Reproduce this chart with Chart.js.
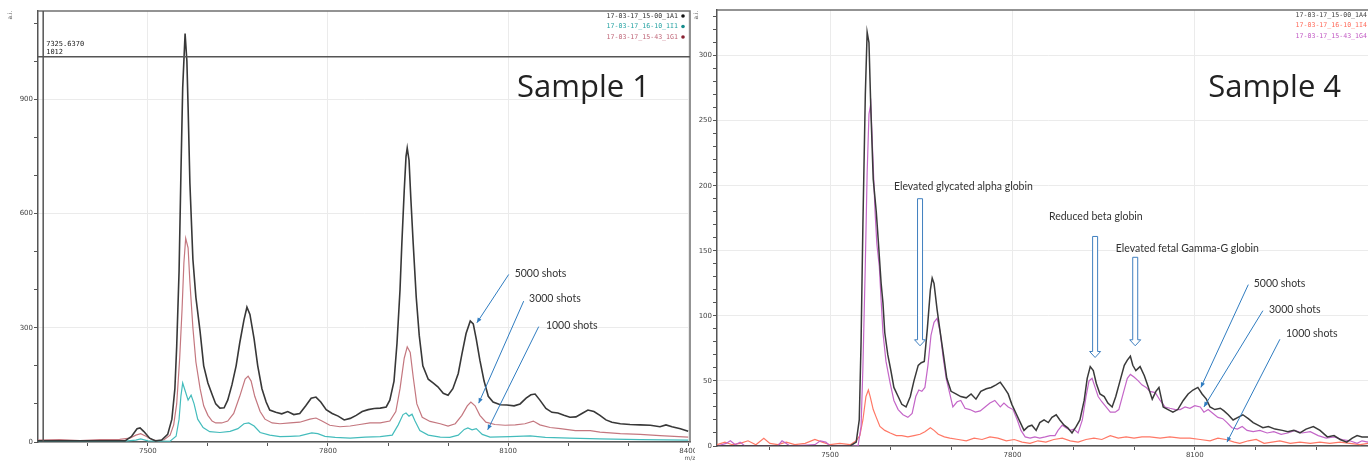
<!DOCTYPE html>
<html>
<head>
<meta charset="utf-8">
<script src="https://cdn.jsdelivr.net/npm/chart.js@4.4.1/dist/chart.umd.min.js"></script>
<style>
html, body { margin: 0; padding: 0; background: #fff; overflow: hidden; width: 1368px; height: 461px; }
#wrapL { position: absolute; left: 0; top: 0; width: 695px; height: 461px; overflow: hidden; }
#wrapR { position: absolute; left: 690px; top: 0; width: 710px; height: 461px; }
canvas { display: block; }
</style>
</head>
<body>
<div id="wrapL"><canvas id="chartL" width="699" height="461"></canvas></div>
<div id="wrapR"><canvas id="chartR" width="710" height="461"></canvas></div>
<script>
// ---- axes ----
const xTicks = [7400, 7500, 7600, 7700, 7800, 7900, 8000, 8100, 8200, 8300, 8400];
const xLabels = [7500, 7800, 8100, 8400];
const yTicksS1 = [0, 100, 200, 300, 400, 500, 600, 700, 800, 900, 1000, 1100];
const yLabelsS1 = [0, 300, 600, 900];
const yTicksS4 = [0, 10, 20, 30, 40, 50, 60, 70, 80, 90, 100, 110, 120, 130, 140, 150, 160,
                  170, 180, 190, 200, 210, 220, 230, 240, 250, 260, 270, 280, 290, 300, 310, 320, 330];
const yLabelsS4 = [0, 50, 100, 150, 200, 250, 300];

// ---- legend names ----
const namesS1 = ['17-03-17_15-00_1A1', '17-03-17_16-10_1I1', '17-03-17_15-43_1G1'];
const namesS4 = ['17-03-17_15-00_1A4', '17-03-17_16-10_1I4', '17-03-17_15-43_1G4'];

// ---- Sample 1, 5000 shots (1A1) ----
const mzA1 = [7317, 7462, 7473, 7482, 7487, 7493, 7503, 7513, 7523, 7533,
              7540, 7545, 7548, 7552, 7555, 7558, 7562, 7565, 7567, 7570,
              7575, 7580, 7587, 7593, 7600, 7607, 7613, 7620, 7627, 7633,
              7640, 7647, 7653, 7660, 7665, 7670, 7677, 7683, 7690, 7697,
              7703, 7713, 7723, 7733, 7743, 7753, 7763, 7772, 7780, 7788,
              7797, 7807, 7817, 7827, 7837, 7847, 7857, 7867, 7877, 7887,
              7897, 7903, 7910, 7915, 7920, 7923, 7927, 7930, 7932, 7935,
              7938, 7942, 7947, 7952, 7958, 7967, 7975, 7983, 7992, 8000,
              8008, 8017, 8023, 8030, 8037, 8042, 8047, 8053, 8060, 8067,
              8075, 8087, 8098, 8110, 8120, 8130, 8138, 8145, 8153, 8163,
              8173, 8183, 8193, 8203, 8213, 8223, 8233, 8243, 8253, 8263,
              8273, 8287, 8303, 8320, 8337, 8353, 8363, 8373, 8387, 8400];
const intA1 = [3, 3, 15, 35, 37, 28, 10, 3, 5, 20,
               60, 140, 250, 450, 700, 930, 1073, 1000, 880, 680,
               480, 380, 290, 200, 155, 125, 100, 89, 90, 110,
               150, 200, 260, 320, 354, 335, 270, 200, 140, 105,
               84, 78, 74, 80, 72, 75, 95, 115, 118, 105,
               85, 75, 68, 58, 62, 70, 80, 85, 88, 89,
               92, 110, 160, 260, 400, 520, 660, 750, 772, 740,
               640, 520, 380, 280, 200, 165, 155, 145, 128, 123,
               140, 180, 230, 285, 318, 310, 270, 215, 160, 120,
               105, 98, 97, 95, 100, 115, 124, 126, 110, 88,
               78, 76, 70, 65, 66, 75, 84, 80, 70, 58,
               52, 48, 46, 45, 44, 40, 45, 40, 35, 28];

// ---- Sample 1, 3000 shots (1G1) ----
const mzG1 = [7317, 7353, 7387, 7420, 7453, 7470, 7480, 7488, 7497, 7507,
              7517, 7527, 7537, 7543, 7548, 7553, 7557, 7560, 7563, 7567,
              7570, 7575, 7580, 7587, 7593, 7600, 7607, 7613, 7623, 7633,
              7643, 7653, 7662, 7667, 7672, 7678, 7687, 7695, 7707, 7720,
              7737, 7753, 7770, 7780, 7790, 7803, 7820, 7837, 7853, 7870,
              7887, 7903, 7913, 7920, 7927, 7932, 7937, 7942, 7948, 7957,
              7970, 7987, 8000, 8012, 8023, 8032, 8038, 8045, 8053, 8063,
              8078, 8095, 8112, 8128, 8142, 8153, 8170, 8187, 8212, 8237,
              8253, 8287, 8320, 8353, 8400];
const intG1 = [5, 6, 4, 6, 7, 10, 18, 22, 15, 6,
               3, 6, 18, 45, 100, 220, 350, 470, 535, 510,
               420, 300, 210, 140, 95, 70, 55, 50, 50, 55,
               75, 120, 165, 173, 160, 120, 80, 60, 50, 48,
               50, 52, 60, 63, 55, 44, 40, 42, 46, 50,
               50, 55, 80, 140, 220, 250, 235, 170, 100, 65,
               54, 48, 42, 48, 70, 95, 105, 95, 70, 52,
               46, 44, 45, 48, 55, 45, 38, 35, 30, 30,
               26, 22, 20, 17, 13];

// ---- Sample 1, 1000 shots (1I1) ----
const mzI1 = [7317, 7453, 7480, 7488, 7500, 7537, 7547, 7552, 7555, 7558,
              7563, 7567, 7572, 7577, 7583, 7592, 7603, 7620, 7637, 7650,
              7660, 7668, 7677, 7687, 7703, 7720, 7737, 7753, 7773, 7783,
              7795, 7812, 7837, 7862, 7887, 7907, 7917, 7925, 7930, 7935,
              7940, 7945, 7953, 7967, 7987, 8003, 8017, 8027, 8033, 8040,
              8047, 8057, 8070, 8103, 8137, 8162, 8203, 8253, 8320, 8400];
const intI1 = [1, 1, 5, 8, 3, 2, 15, 60, 120, 155,
               130, 110, 123, 100, 60, 38, 27, 25, 28, 35,
               48, 50, 42, 25, 18, 14, 15, 16, 24, 22,
               15, 12, 10, 13, 14, 18, 45, 72, 76, 68,
               73, 55, 30, 18, 13, 12, 18, 33, 37, 32,
               35, 20, 13, 14, 16, 12, 10, 8, 6, 5];

// ---- Sample 4, 5000 shots (1A4) ----
const mzA4 = [7314, 7533, 7543, 7548, 7551, 7554, 7558, 7561, 7564, 7567,
              7571, 7576, 7579, 7584, 7587, 7590, 7595, 7600, 7605, 7612,
              7618, 7625, 7632, 7638, 7645, 7650, 7655, 7660, 7665, 7668,
              7671, 7676, 7681, 7686, 7692, 7699, 7707, 7715, 7724, 7732,
              7740, 7748, 7757, 7765, 7773, 7780, 7786, 7793, 7799, 7806,
              7813, 7819, 7826, 7832, 7839, 7845, 7852, 7859, 7865, 7872,
              7878, 7885, 7891, 7898, 7905, 7911, 7918, 7923, 7928, 7933,
              7938, 7944, 7951, 7957, 7964, 7970, 7977, 7984, 7989, 7994,
              7998, 8003, 8010, 8017, 8023, 8030, 8036, 8041, 8048, 8056,
              8064, 8072, 8081, 8089, 8097, 8105, 8112, 8119, 8125, 8133,
              8142, 8148, 8155, 8163, 8171, 8179, 8188, 8196, 8204, 8212,
              8221, 8232, 8244, 8253, 8263, 8273, 8283, 8295, 8306, 8318,
              8329, 8339, 8350, 8359, 8367, 8375, 8385, 8400];
const intA4 = [0, 0, 3, 20, 80, 170, 270, 318, 310, 260,
               205, 180, 160, 125, 110, 87, 70, 58, 45, 38,
               32, 30, 38, 50, 62, 64, 65, 90, 120, 129,
               125, 105, 88, 72, 52, 42, 40, 38, 37, 40,
               36, 42, 44, 45, 47, 49, 45, 40, 32, 25,
               18, 12, 15, 16, 12, 18, 20, 18, 22, 24,
               20, 16, 14, 10, 15, 20, 35, 52, 61, 58,
               48, 40, 38, 33, 30, 38, 50, 62, 66, 69,
               62, 58, 61, 54, 46, 36, 42, 45, 30, 28,
               26, 28, 35, 40, 43, 45, 40, 36, 30, 28,
               29, 27, 24, 20, 22, 24, 21, 18, 16, 14,
               15, 13, 12, 11, 12, 10, 13, 15, 12, 7,
               8, 5, 3, 6, 8, 7, 7, 6];

// ---- Sample 4, 3000 shots (1G4) ----
const mzG4 = [7314, 7329, 7336, 7344, 7352, 7360, 7414, 7421, 7428, 7434,
              7475, 7484, 7493, 7500, 7546, 7551, 7554, 7558, 7561, 7564,
              7567, 7571, 7574, 7577, 7581, 7584, 7587, 7592, 7599, 7605,
              7612, 7620, 7628, 7635, 7641, 7646, 7651, 7656, 7661, 7666,
              7671, 7676, 7681, 7686, 7691, 7697, 7702, 7709, 7715, 7722,
              7730, 7739, 7747, 7755, 7763, 7771, 7780, 7786, 7793, 7801,
              7808, 7814, 7821, 7829, 7837, 7845, 7854, 7862, 7870, 7875,
              7882, 7888, 7895, 7901, 7908, 7915, 7921, 7926, 7931, 7936,
              7941, 7947, 7954, 7961, 7969, 7975, 7982, 7989, 7994, 8000,
              8007, 8013, 8020, 8026, 8035, 8043, 8051, 8059, 8068, 8076,
              8084, 8092, 8100, 8109, 8115, 8122, 8130, 8138, 8146, 8153,
              8161, 8170, 8178, 8186, 8196, 8207, 8219, 8230, 8242, 8253,
              8265, 8276, 8290, 8303, 8316, 8329, 8342, 8355, 8367, 8375,
              8385, 8400];
const intG4 = [0, 2, 4, 1, 3, 0, 0, 4, 2, 0,
               1, 4, 3, 0, 0, 15, 60, 140, 210, 255,
               263, 215, 180, 155, 138, 112, 87, 65, 48, 35,
               28, 24, 22, 25, 38, 43, 42, 45, 62, 85,
               95, 98, 88, 68, 52, 40, 30, 34, 35, 29,
               28, 26, 27, 30, 33, 35, 30, 33, 30, 28,
               20, 12, 7, 6, 7, 6, 7, 8, 8, 12,
               16, 14, 12, 13, 10, 20, 38, 50, 52, 45,
               38, 34, 30, 26, 26, 28, 40, 52, 55, 53,
               50, 47, 45, 42, 41, 35, 30, 29, 28, 28,
               30, 29, 31, 30, 26, 28, 25, 22, 21, 18,
               14, 13, 15, 12, 11, 12, 10, 11, 9, 10,
               12, 10, 11, 8, 6, 7, 5, 4, 2, 4,
               3, 3];

// ---- Sample 4, 1000 shots (1I4) ----
const mzI4 = [7314, 7327, 7339, 7352, 7365, 7378, 7391, 7401, 7414, 7428,
              7442, 7459, 7475, 7487, 7500, 7516, 7533, 7543, 7549, 7554,
              7559, 7563, 7566, 7571, 7576, 7582, 7590, 7599, 7609, 7618,
              7628, 7638, 7648, 7656, 7665, 7671, 7678, 7688, 7697, 7711,
              7724, 7737, 7750, 7763, 7776, 7790, 7803, 7816, 7829, 7842,
              7855, 7868, 7882, 7895, 7908, 7921, 7934, 7947, 7961, 7974,
              7987, 8000, 8013, 8026, 8043, 8059, 8076, 8092, 8109, 8125,
              8138, 8151, 8165, 8174, 8188, 8201, 8214, 8227, 8240, 8257,
              8273, 8290, 8306, 8322, 8339, 8355, 8372, 8385, 8400];
const intI4 = [1, 3, 1, 2, 4, 1, 6, 2, 1, 3,
               1, 2, 5, 3, 1, 2, 1, 4, 8, 20,
               38, 43, 38, 28, 22, 15, 12, 10, 8, 8,
               7, 8, 9, 11, 14, 12, 9, 7, 6, 5,
               4, 6, 5, 7, 6, 4, 5, 3, 2, 4,
               3, 5, 6, 4, 3, 5, 6, 5, 8, 6,
               7, 6, 7, 7, 6, 7, 6, 6, 5, 4,
               6, 5, 3, 2, 4, 5, 2, 3, 4, 2,
               3, 2, 3, 2, 3, 2, 1, 2, 2];

// ---- drawing helpers ----
function arrowLine(ctx, x1, y1, x2, y2) {
    ctx.beginPath();
    ctx.moveTo(x1, y1);
    ctx.lineTo(x2, y2);
    ctx.stroke();
    let a = Math.atan2(y2 - y1, x2 - x1), L = 5, W = 2.2;
    ctx.beginPath();
    ctx.moveTo(x2, y2);
    ctx.lineTo(x2 - L * Math.cos(a) + W * Math.sin(a), y2 - L * Math.sin(a) - W * Math.cos(a));
    ctx.lineTo(x2 - L * Math.cos(a) - W * Math.sin(a), y2 - L * Math.sin(a) + W * Math.cos(a));
    ctx.closePath();
    ctx.fill();
}

function blockArrow(ctx, cx, yTop, yTip) {
    let sw = 2.5, hw = 5.5, hl = 6;
    ctx.beginPath();
    ctx.moveTo(cx - sw, yTop);
    ctx.lineTo(cx + sw, yTop);
    ctx.lineTo(cx + sw, yTip - hl);
    ctx.lineTo(cx + hw, yTip - hl);
    ctx.lineTo(cx, yTip);
    ctx.lineTo(cx - hw, yTip - hl);
    ctx.lineTo(cx - sw, yTip - hl);
    ctx.closePath();
    ctx.fillStyle = '#fff';
    ctx.fill();
    ctx.strokeStyle = '#3f7fbf';
    ctx.lineWidth = 1;
    ctx.stroke();
}

function decor(p)
{
    return {
        id: 'decor',
        afterDraw(chart) {
            const ctx = chart.ctx, a = chart.chartArea;
            const xs = chart.scales.x, ys = chart.scales.y;
            const px = v => xs.getPixelForValue(v), py = v => ys.getPixelForValue(v);
            ctx.save();

            // frame (top + right)
            ctx.strokeStyle = '#707070';
            ctx.lineWidth = 1.5;
            ctx.beginPath();
            ctx.moveTo(a.left, a.top);
            ctx.lineTo(a.right, a.top);
            ctx.lineTo(a.right, a.bottom);
            ctx.stroke();

            // a.i. label
            ctx.save();
            ctx.translate(p.aiX, 15);
            ctx.rotate(-Math.PI / 2);
            ctx.fillStyle = '#555';
            ctx.font = '6px "DejaVu Sans"';
            ctx.textAlign = 'center';
            ctx.textBaseline = 'middle';
            ctx.fillText('a.i.', 0, 0);
            ctx.restore();

            // m/z label
            ctx.fillStyle = '#555';
            ctx.font = '6px "DejaVu Sans"';
            ctx.textAlign = 'center';
            ctx.textBaseline = 'middle';
            ctx.fillText('m/z', a.right, a.bottom + 16);

            // cursor cross
            if (p.cursor) {
                let cx = px(p.cursor.mz), cy = py(p.cursor.value);
                ctx.strokeStyle = '#555';
                ctx.lineWidth = 1.5;
                ctx.beginPath();
                ctx.moveTo(cx, a.top); ctx.lineTo(cx, a.bottom);
                ctx.moveTo(a.left, cy); ctx.lineTo(a.right, cy);
                ctx.stroke();
                ctx.fillStyle = '#222';
                ctx.font = '7px "DejaVu Sans Mono"';
                ctx.textAlign = 'left';
                ctx.textBaseline = 'middle';
                ctx.fillText(p.cursor.text[0], cx + 3, cy - 13);
                ctx.fillText(p.cursor.text[1], cx + 3, cy - 5);
            }

            // legend, top right (in legend order, not draw order)
            ctx.font = '6.6px "DejaVu Sans Mono"';
            ctx.textAlign = 'right';
            ctx.textBaseline = 'middle';
            for (let i = 0; i < p.legend.length; i++) {
                let s = p.series[p.legend[i]], y = a.top + 5 + i * 10.5;
                ctx.fillStyle = s.textColor;
                ctx.fillText(s.name, a.right - 12, y);
                ctx.fillStyle = s.dotColor;
                ctx.beginPath();
                ctx.arc(a.right - 7, y, 1.8, 0, Math.PI * 2);
                ctx.fill();
            }

            // big sample title
            ctx.fillStyle = '#222';
            ctx.font = '31px "Open Sans"';
            ctx.textAlign = 'left';
            ctx.textBaseline = 'alphabetic';
            ctx.fillText(p.title.text, px(p.title.mz), py(p.title.value));

            // block arrows
            for (let b of p.blocks)
                blockArrow(ctx, px(b.mz), py(b.top), py(b.tip));

            // thin arrows
            ctx.strokeStyle = '#2f7cc0';
            ctx.fillStyle = '#2f7cc0';
            ctx.lineWidth = 1;
            for (let r of p.arrows)
                arrowLine(ctx, px(r.from[0]), py(r.from[1]), px(r.to[0]), py(r.to[1]));

            // notes
            ctx.fillStyle = '#333';
            ctx.font = '10.5px Lato';
            ctx.textAlign = 'left';
            ctx.textBaseline = 'middle';
            for (let n of p.notes)
                ctx.fillText(n.text, px(n.mz), py(n.value));

            ctx.restore();
        }
    };
}

function buildChart(id, p)
{
    const tickFont = {family: 'DejaVu Sans', size: 7};
    const datasets = p.series.map(s => ({
        data: s.mz.map((m, i) => ({x: m, y: s.val[i]})),
        borderColor: s.color,
        borderWidth: s.width,
        pointRadius: 0,
        tension: 0,
        fill: false
    }));

    return new Chart(document.getElementById(id), {
        type: 'line',
        data: {datasets: datasets},
        options: {
            responsive: false,
            animation: false,
            events: [],
            layout: {padding: {left: 0, top: p.padTop, right: p.padRight, bottom: 0}},
            plugins: {legend: {display: false}, tooltip: {enabled: false}},
            scales: {
                x: {
                    type: 'linear',
                    min: p.xMin,
                    max: p.xMax,
                    afterBuildTicks: sc => { sc.ticks = xTicks.map(v => ({value: v})); },
                    afterFit: sc => { sc.height = p.xAxisH; },
                    ticks: {
                        autoSkip: false, maxRotation: 0, padding: 1, color: '#444', font: tickFont,
                        callback: v => xLabels.includes(v) ? String(v) : ''
                    },
                    grid: {
                        color: c => (c.tick && xLabels.includes(c.tick.value)) ? '#ebebeb' : 'rgba(0,0,0,0)',
                        tickColor: '#555',
                        tickLength: 4
                    },
                    border: {color: '#555', width: 1.5}
                },
                y: {
                    type: 'linear',
                    min: 0,
                    max: p.yMax,
                    afterBuildTicks: sc => { sc.ticks = p.yTicks.map(v => ({value: v})); },
                    afterFit: sc => { sc.width = p.yAxisW; },
                    ticks: {
                        autoSkip: false, padding: 1, color: '#444', font: tickFont,
                        callback: v => p.yLabels.includes(v) ? String(v) : ''
                    },
                    grid: {
                        color: c => (c.tick && p.yLabels.includes(c.tick.value)) ? '#ebebeb' : 'rgba(0,0,0,0)',
                        tickColor: '#555',
                        tickLength: 4
                    },
                    border: {color: '#555', width: 1.5}
                }
            }
        },
        plugins: [decor(p)]
    });
}

buildChart('chartL', {
    xMin: 7317, xMax: 8403, yMax: 1132,
    yTicks: yTicksS1, yLabels: yLabelsS1,
    padTop: 11, padRight: 9, xAxisH: 19, yAxisW: 38, aiX: 10,
    series: [
        {mz: mzA1, val: intA1, color: '#383838', width: 1.6, name: namesS1[0], textColor: '#333', dotColor: '#111'},
        {mz: mzI1, val: intI1, color: '#44bcbc', width: 1.2, name: namesS1[1], textColor: '#27a3a3', dotColor: '#168c8c'},
        {mz: mzG1, val: intG1, color: '#c4777f', width: 1.2, name: namesS1[2], textColor: '#c0687a', dotColor: '#8a2232'}
    ],
    legend: [0, 1, 2],
    cursor: {mz: 7325.637, value: 1012, text: ['7325.6370', '1012']},
    title: {text: 'Sample 1', mz: 8115, value: 906},
    notes: [
        {text: '5000 shots', mz: 8111, value: 443},
        {text: '3000 shots', mz: 8135, value: 376},
        {text: '1000 shots', mz: 8163, value: 307}
    ],
    arrows: [
        {from: [8101, 440], to: [8048, 313]},
        {from: [8126, 370], to: [8051, 102]},
        {from: [8151, 303], to: [8066, 32]}
    ],
    blocks: []
});

buildChart('chartR', {
    xMin: 7314, xMax: 8403, yMax: 335,
    yTicks: yTicksS4, yLabels: yLabelsS4,
    padTop: 10, padRight: 21, xAxisH: 15, yAxisW: 27, aiX: 6,
    series: [
        {mz: mzA4, val: intA4, color: '#3a3a3a', width: 1.5, name: namesS4[0], textColor: '#444', dotColor: '#111'},
        {mz: mzG4, val: intG4, color: '#c466c8', width: 1.2, name: namesS4[2], textColor: '#c25ac4', dotColor: '#8a2a8a'},
        {mz: mzI4, val: intI4, color: '#ff7866', width: 1.2, name: namesS4[1], textColor: '#ff6a5a', dotColor: '#c0302a'}
    ],
    legend: [0, 2, 1],
    cursor: null,
    title: {text: 'Sample 4', mz: 8122, value: 268},
    notes: [
        {text: 'Elevated glycated alpha globin', mz: 7605, value: 199},
        {text: 'Reduced beta globin', mz: 7860, value: 176},
        {text: 'Elevated fetal Gamma-G globin', mz: 7970, value: 152},
        {text: '5000 shots', mz: 8197, value: 125},
        {text: '3000 shots', mz: 8222, value: 105},
        {text: '1000 shots', mz: 8250, value: 86}
    ],
    arrows: [
        {from: [8188, 124], to: [8110, 45]},
        {from: [8212, 104], to: [8115, 30]},
        {from: [8240, 82], to: [8153, 3]}
    ],
    blocks: [
        {mz: 7648, top: 190, tip: 77},
        {mz: 7936, top: 161, tip: 68},
        {mz: 8002, top: 145, tip: 77}
    ]
});
</script>
</body>
</html>
